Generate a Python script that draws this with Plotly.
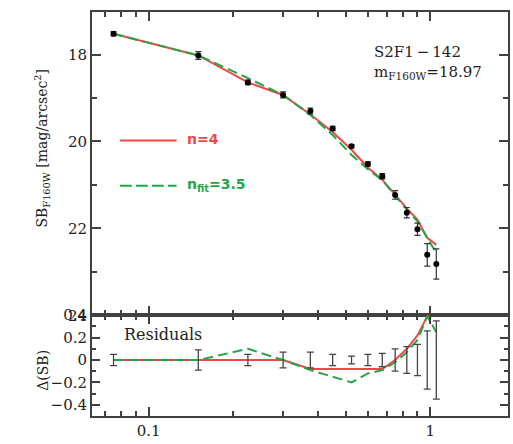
import numpy as np
import plotly.graph_objects as go

# ---- data ----
radius = [0.075, 0.15, 0.225, 0.30, 0.375, 0.45, 0.525, 0.60, 0.675, 0.75, 0.825, 0.90, 0.975, 1.05]
sb_obs = [17.52, 18.02, 18.64, 18.93, 19.30, 19.70, 20.11, 20.52, 20.80, 21.23, 21.64, 22.02, 22.61, 22.82]
sb_err = [0.05, 0.09, 0.05, 0.07, 0.07, 0.05, 0.035, 0.05, 0.06, 0.10, 0.12, 0.14, 0.26, 0.35]
model_n4 = [17.52, 18.02, 18.64, 18.93, 19.38, 19.78, 20.19, 20.60, 20.88, 21.23, 21.54, 21.80, 22.22, 22.38]
model_fit = [17.52, 18.02, 18.54, 18.93, 19.39, 19.85, 20.31, 20.64, 20.89, 21.25, 21.57, 21.84, 22.22, 22.57]
resid_zero = [0.0] * 14
resid_n4 = [0.0, 0.0, 0.0, 0.0, -0.08, -0.08, -0.08, -0.08, -0.08, 0.0, 0.10, 0.22, 0.39, 0.46]
resid_fit = [0.0, 0.0, 0.10, 0.0, -0.09, -0.15, -0.20, -0.12, -0.09, -0.02, 0.07, 0.18, 0.39, 0.25]

x_major = [0.1, 1]
x_major_text = ["0.1", "1"]
x_minor = [0.07, 0.08, 0.09, 0.2, 0.3, 0.4, 0.5, 0.6, 0.7, 0.8, 0.9]
y_major = [18, 20, 22, 24]
y_minor = [19, 21, 23]
r_major = [-0.4, -0.2, 0, 0.2, 0.4]
r_major_text = ["\u22120.4", "\u22120.2", "0", "0.2", "0.4"]
r_minor = [-0.5, -0.3, -0.1, 0.1, 0.3]

RED = "#f04848"
GREEN = "#20a848"
FRAME = "#404040"
SERIF = "DejaVu Serif"
DASH = "10px,5px"

W, H = 513, 444
ml, mr, mt, mb = 92, 3, 7, 28
ph = H - mt - mb
split = (416 - 314) / ph

fig = go.Figure()

# top panel
fig.add_trace(go.Scatter(x=radius, y=model_n4, mode="lines",
                         line=dict(color=RED, width=2), xaxis="x", yaxis="y"))
fig.add_trace(go.Scatter(x=radius, y=model_fit, mode="lines",
                         line=dict(color=GREEN, width=2, dash=DASH), xaxis="x", yaxis="y"))
fig.add_trace(go.Scatter(x=radius, y=sb_obs, mode="markers",
                         marker=dict(color="black", size=6, symbol="circle"),
                         error_y=dict(type="data", array=sb_err, color="#333", thickness=1.2, width=3),
                         xaxis="x", yaxis="y"))

# residual panel
fig.add_trace(go.Scatter(x=radius, y=resid_n4, mode="lines",
                         line=dict(color=RED, width=2), xaxis="x2", yaxis="y2"))
fig.add_trace(go.Scatter(x=radius, y=resid_fit, mode="lines",
                         line=dict(color=GREEN, width=2, dash=DASH), xaxis="x2", yaxis="y2"))
fig.add_trace(go.Scatter(x=radius, y=resid_zero, mode="markers",
                         marker=dict(color="rgba(0,0,0,0)", size=1),
                         error_y=dict(type="data", array=sb_err, color="#444", thickness=1.3, width=3.5),
                         xaxis="x2", yaxis="y2"))

xr = [np.log10(0.0629), np.log10(1.887)]
axis_common = dict(showline=True, linecolor=FRAME, linewidth=2, mirror="ticks",
                   ticks="inside", tickcolor=FRAME, tickwidth=1.5, showgrid=False,
                   zeroline=False, tickfont=dict(family=SERIF, size=15, color="#222"))

fig.update_layout(
    width=W, height=H, margin=dict(l=ml, r=mr, t=mt, b=mb),
    paper_bgcolor="white", plot_bgcolor="white", showlegend=False,
    xaxis=dict(type="log", range=xr, domain=[0, 1], anchor="y",
               tickvals=x_major, ticktext=x_major_text, ticklen=9, showticklabels=False,
               minor=dict(tickvals=x_minor, ticks="inside", ticklen=5, tickcolor=FRAME, tickwidth=1.5),
               **axis_common),
    yaxis=dict(range=[24.0, 17.02], domain=[split, 1], anchor="x",
               tickvals=y_major, ticktext=[str(v) for v in y_major], ticklen=9,
               minor=dict(tickvals=y_minor, ticks="inside", ticklen=5, tickcolor=FRAME, tickwidth=1.5),
               **axis_common),
    xaxis2=dict(type="log", range=xr, domain=[0, 1], anchor="y2",
                tickvals=x_major, ticktext=x_major_text, ticklen=9,
                minor=dict(tickvals=x_minor, ticks="inside", ticklen=5, tickcolor=FRAME, tickwidth=1.5),
                **axis_common),
    yaxis2=dict(range=[-0.5, 0.4], domain=[0, split], anchor="x2",
                tickvals=r_major, ticktext=r_major_text, ticklen=8,
                minor=dict(tickvals=r_minor, ticks="inside", ticklen=4, tickcolor=FRAME, tickwidth=1.5),
                **axis_common),
)

def px_x(p):
    return (p - ml) / (W - ml - mr)

def px_y(p):
    return 1 - (p - mt) / ph

annots = [
    dict(text="SB<sub>F160W</sub> [mag/arcsec<sup>2</sup>]", x=px_x(42), y=px_y(145), textangle=-90,
         font=dict(family=SERIF, size=14, color="#222")),
    dict(text="\u0394(SB)", x=px_x(42), y=px_y(370), textangle=-90,
         font=dict(family=SERIF, size=14, color="#222")),
    dict(text="Residuals", x=px_x(122), y=px_y(333), xanchor="left",
         font=dict(family=SERIF, size=16, color="#222")),
    dict(text="S2F1\u2009\u2212\u2009142", x=px_x(373), y=px_y(47), xanchor="left",
         font=dict(family=SERIF, size=15, color="#222")),
    dict(text="m<sub>F160W</sub>=18.97", x=px_x(373), y=px_y(68), xanchor="left",
         font=dict(family=SERIF, size=15, color="#222")),
    dict(text="<b>n=4</b>", x=px_x(185), y=px_y(136), xanchor="left",
         font=dict(family="DejaVu Sans", size=14, color=RED)),
    dict(text="<b>n<sub>fit</sub>=3.5</b>", x=px_x(185), y=px_y(182), xanchor="left",
         font=dict(family="DejaVu Sans", size=14, color=GREEN)),
]
for a in annots:
    fig.add_annotation(xref="paper", yref="paper", showarrow=False, yanchor="middle",
                       **({"xanchor": "center"} | a))

fig.add_shape(type="line", xref="paper", yref="paper", x0=px_x(120), x1=px_x(177),
              y0=px_y(137), y1=px_y(137), line=dict(color=RED, width=2))
fig.add_shape(type="line", xref="paper", yref="paper", x0=px_x(120), x1=px_x(177),
              y0=px_y(183), y1=px_y(183), line=dict(color=GREEN, width=2, dash="12px,4px"))

fig.write_html("out.html")
